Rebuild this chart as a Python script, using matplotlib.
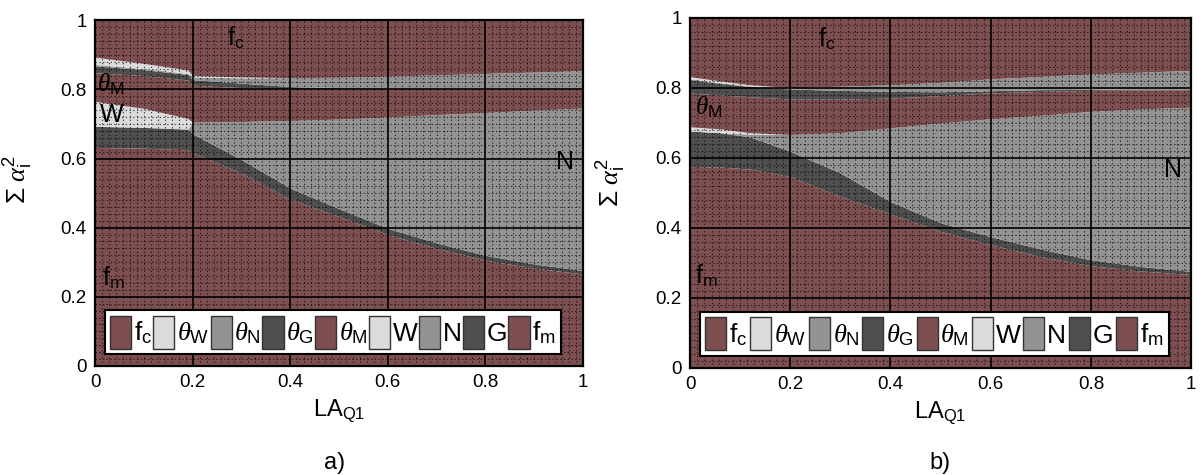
import numpy as np
import matplotlib.pyplot as plt
from matplotlib.patches import Patch

plt.rcParams['font.family'] = ['Liberation Sans', 'DejaVu Sans']
plt.rcParams['mathtext.fontset'] = 'custom'
plt.rcParams['mathtext.rm'] = 'Liberation Sans'
plt.rcParams['mathtext.it'] = 'Liberation Serif:italic'
plt.rcParams['mathtext.bf'] = 'Liberation Sans:bold'

# layer names, bottom -> top (tops of each layer = cumulative sum of alpha_i^2)
layers = ['f_m', 'G', 'N', 'W', 'theta_M', 'theta_G', 'theta_N', 'theta_W', 'f_c']

# ---- panel a) ----
x_a = [0, 0.1, 0.19, 0.2, 0.3, 0.4, 0.5, 0.6, 0.7, 0.8, 0.9, 1.0]
a_fm  = [0.632, 0.630, 0.625, 0.617, 0.558, 0.482, 0.432, 0.380, 0.340, 0.306, 0.283, 0.266]
a_G   = [0.693, 0.690, 0.685, 0.671, 0.597, 0.514, 0.455, 0.398, 0.356, 0.320, 0.295, 0.276]
a_N   = [0.693, 0.690, 0.685, 0.705, 0.707, 0.710, 0.714, 0.720, 0.727, 0.733, 0.740, 0.746]
a_W   = [0.765, 0.745, 0.716, 0.705, 0.707, 0.710, 0.714, 0.720, 0.727, 0.733, 0.740, 0.746]
a_thM = [0.848, 0.840, 0.827, 0.812, 0.805, 0.800, 0.801, 0.802, 0.802, 0.802, 0.802, 0.802]
a_thG = [0.868, 0.857, 0.843, 0.828, 0.818, 0.808, 0.805, 0.804, 0.803, 0.803, 0.803, 0.803]
a_thN = [0.872, 0.860, 0.846, 0.836, 0.833, 0.834, 0.835, 0.838, 0.842, 0.846, 0.850, 0.854]
a_thW = [0.893, 0.875, 0.856, 0.840, 0.836, 0.834, 0.835, 0.838, 0.842, 0.846, 0.850, 0.854]
a_fc  = [1.0] * len(x_a)

# ---- panel b) ----
x_b = [0, 0.06, 0.12, 0.2, 0.3, 0.4, 0.5, 0.6, 0.7, 0.8, 0.9, 1.0]
b_fm  = [0.576, 0.574, 0.568, 0.547, 0.490, 0.440, 0.390, 0.352, 0.318, 0.292, 0.277, 0.267]
b_G   = [0.677, 0.672, 0.660, 0.619, 0.557, 0.475, 0.415, 0.375, 0.340, 0.309, 0.290, 0.276]
b_N   = [0.677, 0.672, 0.668, 0.667, 0.672, 0.686, 0.700, 0.712, 0.722, 0.733, 0.740, 0.745]
b_W   = [0.689, 0.683, 0.672, 0.667, 0.672, 0.686, 0.700, 0.712, 0.722, 0.733, 0.740, 0.745]
b_thM = [0.785, 0.780, 0.775, 0.768, 0.768, 0.771, 0.778, 0.786, 0.790, 0.793, 0.794, 0.795]
b_thG = [0.824, 0.813, 0.804, 0.797, 0.793, 0.790, 0.789, 0.792, 0.795, 0.796, 0.797, 0.797]
b_thN = [0.826, 0.815, 0.806, 0.800, 0.805, 0.809, 0.816, 0.826, 0.833, 0.840, 0.845, 0.850]
b_thW = [0.832, 0.820, 0.809, 0.801, 0.805, 0.809, 0.816, 0.826, 0.833, 0.840, 0.845, 0.850]
b_fc  = [1.0] * len(x_b)

red = '#7e4f50'
light = '#dcdcdc'
mid = '#939393'
dark = '#4f4f4f'
layer_colors = [red, dark, mid, light, red, dark, mid, light, red]

legend_labels = ['f$_\\mathrm{c}$', '$\\theta_\\mathrm{W}$', '$\\theta_\\mathrm{N}$', '$\\theta_\\mathrm{G}$',
                 '$\\theta_\\mathrm{M}$', 'W', 'N', 'G', 'f$_\\mathrm{m}$']
legend_colors = [red, light, mid, dark, red, light, mid, dark, red]


def draw_panel(ax, x, tops, notes):
    lower = np.zeros(len(x))
    for top, c in zip(tops, layer_colors):
        top = np.array(top)
        ax.fill_between(x, lower, top, color=c, lw=0, zorder=1)
        lower = top
    ax.set_xlim(0, 1)
    ax.set_ylim(0, 1)
    ax.set_xticks([0, 0.2, 0.4, 0.6, 0.8, 1])
    ax.set_xticklabels(['0', '0.2', '0.4', '0.6', '0.8', '1'])
    ax.set_yticks([0, 0.2, 0.4, 0.6, 0.8, 1])
    ax.set_yticklabels(['0', '0.2', '0.4', '0.6', '0.8', '1'])
    # fine dotted texture
    ax.set_xticks(np.linspace(0, 1, 71), minor=True)
    ax.set_yticks(np.linspace(0, 1, 51), minor=True)
    ax.set_axisbelow(False)
    ax.grid(which='minor', color='black', ls=(0, (1.2, 2.2)), lw=0.8, alpha=0.7)
    ax.grid(which='major', color='black', ls='-', lw=1.2)
    ax.tick_params(which='both', length=0, labelsize=13.5, pad=6)
    for s in ax.spines.values():
        s.set_linewidth(1.6)
    ax.set_xlabel('LA$_\\mathrm{Q1}$', fontsize=17)
    ax.set_ylabel('$\\Sigma\\ \\alpha_\\mathrm{i}^\\mathrm{2}$', fontsize=19)
    for tx, ty, s in notes:
        ax.text(tx, ty, s, fontsize=18, ha='left', va='center', zorder=5)
    handles = [Patch(facecolor=c, edgecolor='#333333', lw=1) for c in legend_colors]
    leg = ax.legend(handles, legend_labels, ncol=9, loc='lower left',
                    bbox_to_anchor=(0.02, 0.035, 0.935, 0.14), mode='expand',
                    fontsize=19, handlelength=0.8, handleheight=1.55,
                    handletextpad=0.1, columnspacing=0.2, borderpad=0.2,
                    borderaxespad=0, fancybox=False, framealpha=1)
    leg.get_frame().set_edgecolor('black')
    leg.get_frame().set_linewidth(1.5)
    leg.set_zorder(6)


fig = plt.figure(figsize=(12.03, 4.75), dpi=100)
ax1 = fig.add_axes([0.079, 0.2295, 0.4057, 0.728])
ax2 = fig.add_axes([0.5736, 0.2253, 0.4165, 0.737])

draw_panel(ax1, x_a, [a_fm, a_G, a_N, a_W, a_thM, a_thG, a_thN, a_thW, a_fc],
           [(0.27, 0.95, 'f$_\\mathrm{c}$'), (0.005, 0.815, '$\\theta_\\mathrm{M}$'),
            (0.01, 0.725, 'W'), (0.945, 0.59, 'N'), (0.015, 0.255, 'f$_\\mathrm{m}$')])
draw_panel(ax2, x_b, [b_fm, b_G, b_N, b_W, b_thM, b_thG, b_thN, b_thW, b_fc],
           [(0.255, 0.94, 'f$_\\mathrm{c}$'), (0.01, 0.745, '$\\theta_\\mathrm{M}$'),
            (0.945, 0.565, 'N'), (0.01, 0.265, 'f$_\\mathrm{m}$')])

ax1.xaxis.set_label_coords(0.5, -0.09)
ax2.xaxis.set_label_coords(0.5, -0.09)
ax1.yaxis.set_label_coords(-0.125, 0.54)
ax2.yaxis.set_label_coords(-0.125, 0.53)

fig.text(0.278, 0.025, 'a)', fontsize=17, ha='center', va='center')
fig.text(0.781, 0.025, 'b)', fontsize=17, ha='center', va='center')

fig.savefig('out.png', dpi=100)
